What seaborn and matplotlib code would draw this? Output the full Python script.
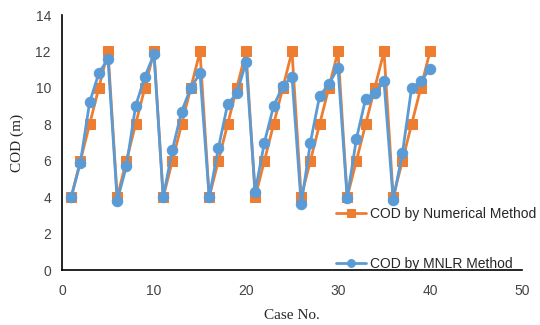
import numpy as np
import pandas as pd
import matplotlib
matplotlib.use("Agg")
import matplotlib.pyplot as plt
import seaborn as sns

case_no = list(range(1, 41))
numerical = [4, 6, 8, 10, 12] * 8
mnlr = [4.0, 5.9, 9.2, 10.8, 11.6,
        3.8, 5.7, 9.0, 10.6, 11.85,
        4.0, 6.6, 8.7, 10.0, 10.8,
        4.0, 6.7, 9.1, 9.7, 11.4,
        4.3, 7.0, 9.0, 10.1, 10.6,
        3.6, 7.0, 9.55, 10.2, 11.1,
        3.95, 7.2, 9.4, 9.7, 10.35,
        3.85, 6.4, 10.0, 10.35, 11.05]

sns.set_style("white")
plt.rcParams['font.family'] = ['Liberation Sans', 'DejaVu Sans']

fig = plt.figure(figsize=(5.4, 3.25), dpi=100)
ax = fig.add_axes([62/540, 1-270/325, 460/540, 255/325])

orange = "#ED7D31"
blue = "#5B9BD5"

df_num = pd.DataFrame({"case": case_no, "cod": numerical})
df_mn = pd.DataFrame({"case": case_no, "cod": mnlr})

sns.lineplot(data=df_num, x="case", y="cod", ax=ax, color=orange, lw=2,
             marker="s", markersize=7.5, markeredgecolor=orange,
             label="COD by Numerical Method")
sns.lineplot(data=df_mn, x="case", y="cod", ax=ax, color=blue, lw=2,
             marker="o", markersize=7.5, markeredgecolor=blue,
             label="COD by MNLR Method")

ax.set_xlim(0, 50)
ax.set_ylim(0, 14)
ax.set_xticks(range(0, 51, 10))
ax.set_yticks(range(0, 15, 2))
ax.tick_params(axis="both", labelsize=10, length=0, colors="#444444")
ax.tick_params(axis="x", pad=10)
ax.tick_params(axis="y", pad=8)
for s in ["top", "right"]:
    ax.spines[s].set_visible(False)
for s in ["left", "bottom"]:
    ax.spines[s].set_color("black")
    ax.spines[s].set_linewidth(1.2)

ax.set_xlabel("Case No.", family="Liberation Serif", fontsize=11, labelpad=8)
ax.set_ylabel("COD (m)", family="Liberation Serif", fontsize=11, labelpad=8)

leg = ax.legend(loc="upper left", bbox_to_anchor=(268/460, 1-(201-15)/255),
                frameon=False, fontsize=10, labelspacing=2.6, markerscale=0.75,
                handlelength=2.2, handletextpad=0.3, borderaxespad=0)

fig.savefig("out.png", dpi=100)
